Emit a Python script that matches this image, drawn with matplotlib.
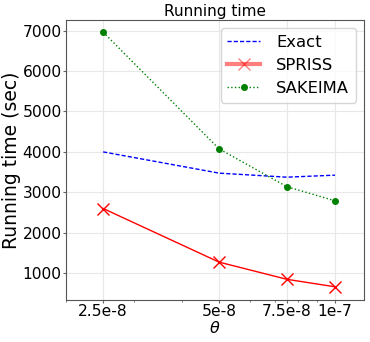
import matplotlib
matplotlib.use("Agg")
import matplotlib.pyplot as plt

# data
theta = [2.5e-8, 5e-8, 7.5e-8, 1e-7]
tick_labels = ["2.5e-8", "5e-8", "7.5e-8", "1e-7"]
exact = [4000, 3475, 3375, 3425]
spriss = [2600, 1275, 850, 665]
sakeima = [6960, 4075, 3140, 2790]

fig, ax = plt.subplots(figsize=(3.7, 3.42), dpi=100)
fig.subplots_adjust(left=0.178, right=0.984, top=0.942, bottom=0.123)

ax.plot(theta, exact, color="blue", linestyle="--", linewidth=1,
        dashes=(3, 1.5), label="Exact")
ax.plot(theta, spriss, color="red", linestyle="-", linewidth=1, marker="x",
        markersize=9, markeredgewidth=1, label="SPRISS")
ax.plot(theta, sakeima, color="green", linestyle=":", linewidth=1, marker="o",
        markersize=4, label="SAKEIMA")

ax.set_xscale("log")
ax.set_xlim(2e-8, 1.19e-7)
ax.set_ylim(340, 7265)
ax.set_xticks(theta)
ax.set_xticklabels(tick_labels)
ax.set_yticks([1000, 2000, 3000, 4000, 5000, 6000, 7000])
ax.tick_params(axis="both", which="both", labelsize=11.2, length=2,
               color="#666666", pad=1)
ax.tick_params(axis="x", which="minor", labelbottom=False, length=1.5)
ax.grid(True, which="major", color="#e8e8e8", linewidth=0.8)
for s in ax.spines.values():
    s.set_color("#555555")

ax.set_title("Running time", fontsize=11, pad=3)
ax.set_xlabel(r"$\theta$", fontsize=11.5, labelpad=1)
ax.set_ylabel("Running time (sec)", fontsize=13.5, labelpad=1)
leg = ax.legend(loc="upper right", fontsize=11.8, handlelength=2.0,
                borderpad=0.4, labelspacing=0.5, handletextpad=1.0,
                borderaxespad=0.5)
h = leg.legend_handles[1]
h.set_linewidth(3)
h.set_alpha(0.5)

fig.savefig("out.png", dpi=100)
